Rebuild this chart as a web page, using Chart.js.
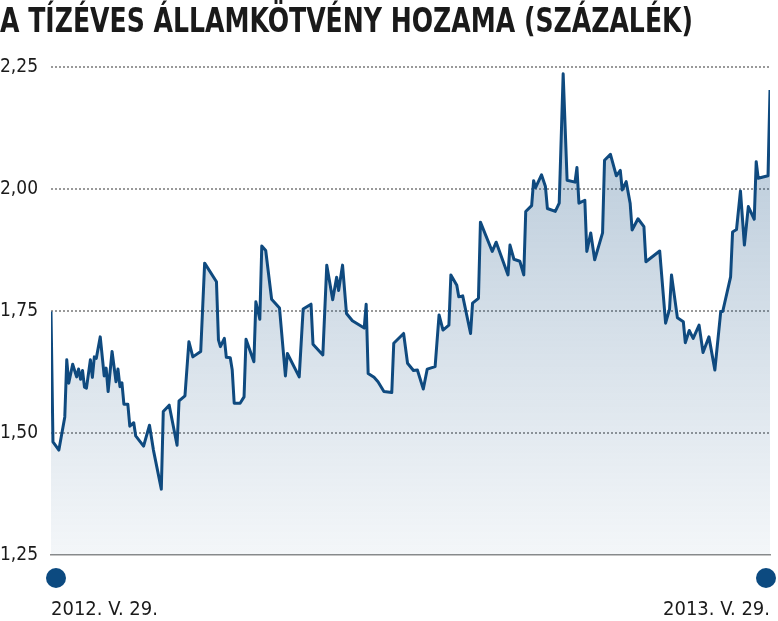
<!DOCTYPE html>
<html><head><meta charset="utf-8">
<script src="https://cdn.jsdelivr.net/npm/chart.js@4/dist/chart.umd.min.js"></script>
<style>html,body{margin:0;padding:0;background:#fff}canvas{display:block}</style>
</head><body>
<canvas id="c" width="778" height="621"></canvas>
<script>
const titleText = 'A TÍZÉVES ÁLLAMKÖTVÉNY HOZAMA (SZÁZALÉK)';
// calendar-day offset from 2012-05-29
const days = [0,1,4,7,8,9,11,13,14,15,16,17,18,20,21,22,23,25,27,28,29,31,33,34,35,36,37,39,40,42,43,47,50,52,56,57,60,64,65,68,70,72,76,78,84,85,86,88,89,91,92,93,96,98,99,103,104,106,107,109,112,116,119,120,126,128,132,133,138,140,143,145,146,148,150,153,159,160,161,164,166,169,173,174,179,181,184,186,189,191,195,197,199,202,203,206,207,209,213,214,217,218,224,226,232,233,235,238,240,241,244,245,246,249,251,252,256,258,260,262,266,267,268,271,272,274,276,280,281,284,287,289,290,292,294,295,298,301,302,309,312,314,315,318,321,322,324,326,329,331,334,337,340,341,345,346,348,350,352,354,357,358,359,364,365];
const yields = [1.749,1.482,1.465,1.533,1.650,1.602,1.641,1.615,1.631,1.610,1.628,1.594,1.592,1.650,1.614,1.656,1.653,1.697,1.617,1.633,1.585,1.667,1.605,1.631,1.595,1.603,1.559,1.559,1.514,1.521,1.494,1.473,1.516,1.465,1.385,1.544,1.557,1.475,1.566,1.576,1.687,1.656,1.667,1.848,1.810,1.691,1.677,1.694,1.655,1.654,1.629,1.561,1.561,1.574,1.692,1.646,1.769,1.733,1.883,1.874,1.774,1.756,1.617,1.663,1.615,1.754,1.764,1.682,1.660,1.844,1.773,1.819,1.792,1.844,1.745,1.730,1.715,1.764,1.622,1.614,1.605,1.585,1.583,1.684,1.704,1.643,1.628,1.629,1.590,1.631,1.636,1.742,1.711,1.721,1.824,1.803,1.779,1.781,1.704,1.766,1.776,1.932,1.872,1.891,1.824,1.885,1.856,1.852,1.824,1.954,1.966,2.017,2.003,2.029,2.005,1.960,1.954,1.971,2.236,2.018,2.014,2.044,1.971,1.977,1.872,1.910,1.855,1.910,2.059,2.071,2.027,2.038,1.998,2.015,1.971,1.916,1.939,1.923,1.851,1.873,1.725,1.754,1.824,1.736,1.728,1.685,1.710,1.694,1.721,1.665,1.697,1.629,1.749,1.749,1.820,1.912,1.917,1.996,1.885,1.964,1.938,2.056,2.022,2.027,2.203];
const yTickValues = [1.25, 1.50, 1.75, 2.00, 2.25];
const yTickLabels = ['1,25', '1,50', '1,75', '2,00', '2,25'];
const xTickValues = [0, 365];
const dateLabels = ['2012. V. 29.', '2013. V. 29.'];

const NARROW = "'DejaVu Sans Condensed', 'Liberation Sans Narrow', 'Liberation Sans', sans-serif";
const LINE = '#0f4a7f';

const fillGradient = (c) => {
  const chart = c.chart, a = chart.chartArea;
  if (!a) return 'rgba(30,85,135,0.2)';
  const g = chart.ctx.createLinearGradient(0, a.top, 0, a.bottom);
  g.addColorStop(0, 'rgba(30,85,135,0.34)');
  g.addColorStop(1, 'rgba(30,85,135,0.05)');
  return g;
};

// condensed headline, drawn as canvas text and squeezed to the reference's width
const headline = {
  id: 'headline',
  afterDraw(chart) {
    const ctx = chart.ctx;
    ctx.save();
    ctx.fillStyle = '#1a1a1a';
    ctx.font = "bold 34px " + NARROW;
    ctx.textAlign = 'left';
    ctx.textBaseline = 'alphabetic';
    ctx.fillText(titleText, 0, 32, 693);
    ctx.restore();
  }
};

const endDots = {
  id: 'endDots',
  afterDraw(chart) {
    const ctx = chart.ctx, a = chart.chartArea;
    ctx.save();
    ctx.fillStyle = '#0c4a80';
    [a.left + 5, a.right - 4].forEach(x => {
      ctx.beginPath();
      ctx.arc(x, a.bottom + 23, 10, 0, Math.PI * 2);
      ctx.fill();
    });
    ctx.restore();
  }
};

new Chart(document.getElementById('c'), {
  type: 'line',
  data: {
    datasets: [{
      data: days.map((d, i) => ({ x: d, y: yields[i] })),
      borderColor: LINE,
      borderWidth: 3,
      borderJoinStyle: 'round',
      tension: 0,
      pointRadius: 0,
      fill: 'start',
      backgroundColor: fillGradient
    }]
  },
  options: {
    responsive: false,
    animation: false,
    devicePixelRatio: 1,
    layout: { padding: { left: 0, right: 8, top: 67, bottom: 0 } },
    plugins: {
      legend: { display: false },
      tooltip: { enabled: false },
      title: { display: false }
    },
    scales: {
      x: {
        type: 'linear', min: 0, max: 365,
        afterBuildTicks: (s) => { s.ticks = xTickValues.map(v => ({ value: v })); },
        ticks: {
          callback: (v, i) => dateLabels[i], align: 'inner', autoSkip: false, maxRotation: 0,
          padding: 43, color: '#1a1a1a', font: { family: NARROW, size: 20 }
        },
        grid: { display: false, drawTicks: false },
        border: { display: true, color: '#8c8c8c', width: 1.5 },
        afterFit: (s) => { s.height = 66; s.paddingLeft = 0; s.paddingRight = 0; }
      },
      y: {
        min: 1.25, max: 2.25,
        afterBuildTicks: (s) => { s.ticks = yTickValues.map(v => ({ value: v })); },
        ticks: {
          callback: (v, i) => yTickLabels[i], crossAlign: 'far', color: '#1a1a1a',
          font: { family: NARROW, size: 19 }
        },
        grid: {
          color: (c) => (c.tick && c.tick.value === 1.25) ? 'rgba(0,0,0,0)' : '#999999',
          lineWidth: 2, drawTicks: false
        },
        border: { display: false, dash: [2, 2] },
        afterFit: (s) => { s.width = 51; }
      }
    }
  },
  plugins: [headline, endDots]
});
</script>
</body></html>
